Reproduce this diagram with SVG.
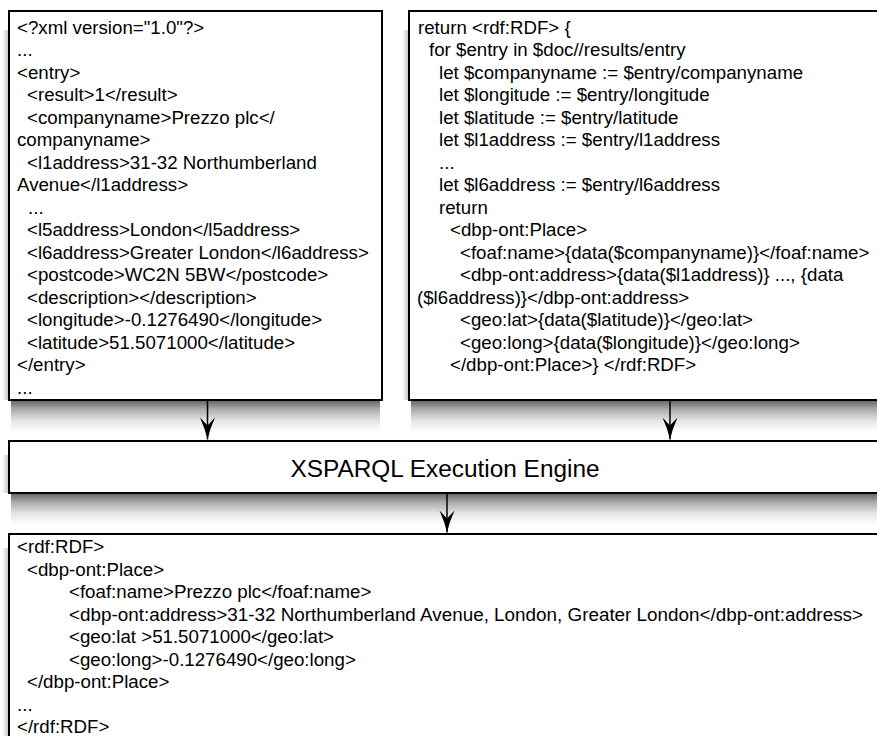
<svg xmlns="http://www.w3.org/2000/svg" width="877" height="736" viewBox="0 0 877 736">
<style>
  .box { fill: #ffffff; stroke: #000000; stroke-width: 2; }
  .code { font-family: "Liberation Sans", Arial, Helvetica, sans-serif; font-size: 18.7px; fill: #000000; }
  .title { font-family: "Liberation Sans", Arial, Helvetica, sans-serif; font-size: 24.4px; fill: #000000; text-anchor: middle; }
  .conn { stroke: #000000; stroke-width: 1.5; fill: none; }
  .shade { fill: url(#shadeGrad); }
  .side { fill: url(#sideGrad); }
</style>
<defs>
  <linearGradient id="shadeGrad" x1="0" y1="0" x2="0" y2="1">
    <stop offset="0" stop-color="#000000" stop-opacity="0.62"/>
    <stop offset="0.3" stop-color="#000000" stop-opacity="0.32"/>
    <stop offset="0.65" stop-color="#000000" stop-opacity="0.1"/>
    <stop offset="1" stop-color="#000000" stop-opacity="0"/>
  </linearGradient>
  <linearGradient id="sideGrad" x1="1" y1="0" x2="0" y2="0">
    <stop offset="0" stop-color="#000000" stop-opacity="0.25"/>
    <stop offset="1" stop-color="#000000" stop-opacity="0"/>
  </linearGradient>
  <marker id="arrow" markerUnits="userSpaceOnUse" markerWidth="24" markerHeight="17" refX="22" refY="8" orient="auto" overflow="visible">
    <path d="M22,8 Q11,5.5 0,0.5 L8,8 L0,15.5 Q11,10.5 22,8 Z" fill="#000000"/>
  </marker>
</defs>
<rect width="877" height="736" fill="#ffffff"/>

<g id="shadows">
  <rect class="shade" x="11" y="400" width="369" height="32"/>
  <rect class="shade" x="411" y="400" width="480" height="32"/>
  <rect class="shade" x="11" y="493" width="880" height="32"/>
  <rect class="side" x="2" y="30" width="7" height="370"/>
  <rect class="side" x="402" y="30" width="7" height="370"/>
  <rect class="side" x="2" y="455" width="7" height="38"/>
  <rect class="side" x="2" y="548" width="7" height="188"/>
</g>

<g id="node-source">
  <rect class="box" x="9" y="11" width="373" height="389"/>
  <text class="code" x="17" y="33.5">&lt;?xml version="1.0"?&gt;</text>
  <text class="code" x="17" y="56">...</text>
  <text class="code" x="17" y="78.5">&lt;entry&gt;</text>
  <text class="code" x="27" y="101">&lt;result&gt;1&lt;/result&gt;</text>
  <text class="code" x="27" y="123.5">&lt;companyname&gt;Prezzo plc&lt;/</text>
  <text class="code" x="17" y="146">companyname&gt;</text>
  <text class="code" x="27" y="168.5">&lt;l1address&gt;31-32 Northumberland</text>
  <text class="code" x="17" y="191">Avenue&lt;/l1address&gt;</text>
  <text class="code" x="28" y="213.5">...</text>
  <text class="code" x="27" y="236">&lt;l5address&gt;London&lt;/l5address&gt;</text>
  <text class="code" x="27" y="258.5">&lt;l6address&gt;Greater London&lt;/l6address&gt;</text>
  <text class="code" x="27" y="281">&lt;postcode&gt;WC2N 5BW&lt;/postcode&gt;</text>
  <text class="code" x="27" y="303.5">&lt;description&gt;&lt;/description&gt;</text>
  <text class="code" x="27" y="326">&lt;longitude&gt;-0.1276490&lt;/longitude&gt;</text>
  <text class="code" x="27" y="348.5">&lt;latitude&gt;51.5071000&lt;/latitude&gt;</text>
  <text class="code" x="17" y="371">&lt;/entry&gt;</text>
  <text class="code" x="17" y="393.5">...</text>
</g>

<g id="node-query">
  <rect class="box" x="409" y="11" width="480" height="389"/>
  <text class="code" x="418" y="33.5">return &lt;rdf:RDF&gt; {</text>
  <text class="code" x="429" y="56">for $entry in $doc//results/entry</text>
  <text class="code" x="439" y="78.5">let $companyname := $entry/companyname</text>
  <text class="code" x="439" y="101">let $longitude := $entry/longitude</text>
  <text class="code" x="439" y="123.5">let $latitude := $entry/latitude</text>
  <text class="code" x="439" y="146">let $l1address := $entry/l1address</text>
  <text class="code" x="439" y="168.5">...</text>
  <text class="code" x="439" y="191">let $l6address := $entry/l6address</text>
  <text class="code" x="439" y="213.5">return</text>
  <text class="code" x="450" y="236">&lt;dbp-ont:Place&gt;</text>
  <text class="code" x="460" y="258.5">&lt;foaf:name&gt;{data($companyname)}&lt;/foaf:name&gt;</text>
  <text class="code" x="460" y="281">&lt;dbp-ont:address&gt;{data($l1address)} ..., {data</text>
  <text class="code" x="417" y="303.5">($l6address)}&lt;/dbp-ont:address&gt;</text>
  <text class="code" x="460" y="326">&lt;geo:lat&gt;{data($latitude)}&lt;/geo:lat&gt;</text>
  <text class="code" x="460" y="348.5">&lt;geo:long&gt;{data($longitude)}&lt;/geo:long&gt;</text>
  <text class="code" x="450" y="371">&lt;/dbp-ont:Place&gt;} &lt;/rdf:RDF&gt;</text>
</g>

<g id="node-engine">
  <rect class="box" x="9" y="441" width="880" height="52"/>
  <text class="title" x="445" y="476.5">XSPARQL Execution Engine</text>
</g>

<g id="node-output">
  <rect class="box" x="9" y="534" width="880" height="230"/>
  <text class="code" x="17" y="553">&lt;rdf:RDF&gt;</text>
  <text class="code" x="27" y="575.5">&lt;dbp-ont:Place&gt;</text>
  <text class="code" x="69" y="598">&lt;foaf:name&gt;Prezzo plc&lt;/foaf:name&gt;</text>
  <text class="code" x="69" y="620.5" textLength="794" lengthAdjust="spacingAndGlyphs">&lt;dbp-ont:address&gt;31-32 Northumberland Avenue, London, Greater London&lt;/dbp-ont:address&gt;</text>
  <text class="code" x="69" y="643">&lt;geo:lat &gt;51.5071000&lt;/geo:lat&gt;</text>
  <text class="code" x="69" y="665.5">&lt;geo:long&gt;-0.1276490&lt;/geo:long&gt;</text>
  <text class="code" x="27" y="688">&lt;/dbp-ont:Place&gt;</text>
  <text class="code" x="17" y="710.5">...</text>
  <text class="code" x="17" y="733">&lt;/rdf:RDF&gt;</text>
</g>

<g id="connectors">
  <line class="conn" x1="207.5" y1="401" x2="207.5" y2="439.5" marker-end="url(#arrow)"/>
  <line class="conn" x1="670" y1="401" x2="670" y2="439.5" marker-end="url(#arrow)"/>
  <line class="conn" x1="447" y1="494" x2="447" y2="532.5" marker-end="url(#arrow)"/>
</g>
</svg>
